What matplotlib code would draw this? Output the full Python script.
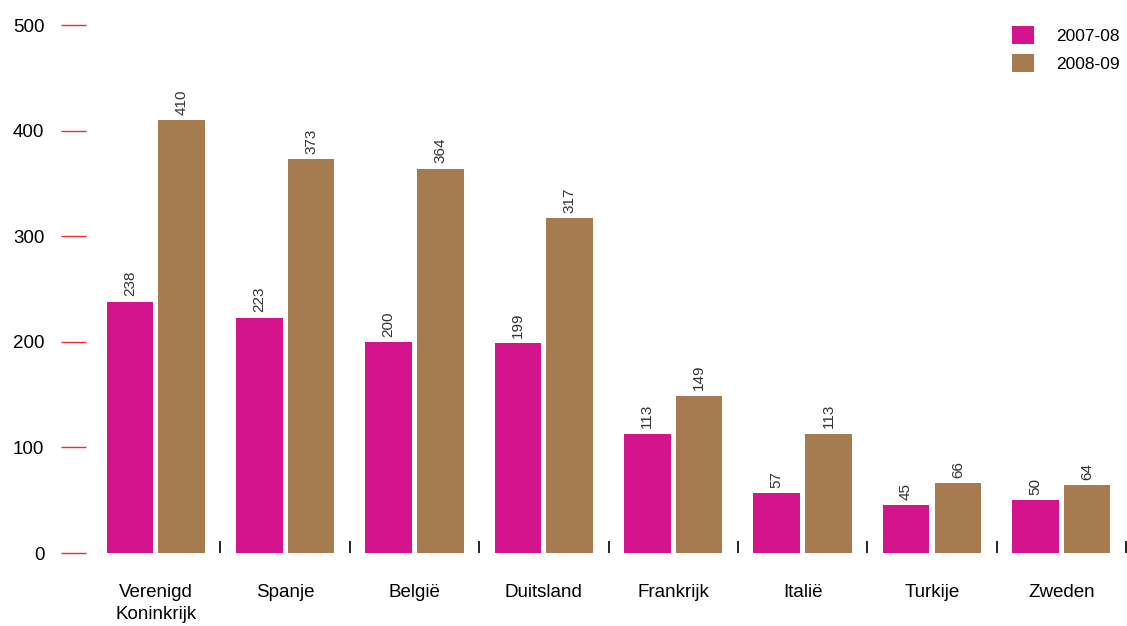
import numpy as np
import matplotlib.pyplot as plt

plt.rcParams['font.family'] = ['Liberation Sans', 'DejaVu Sans']

countries = ['Verenigd\nKoninkrijk', 'Spanje', 'België', 'Duitsland',
             'Frankrijk', 'Italië', 'Turkije', 'Zweden']
v_0708 = [238, 223, 200, 199, 113, 57, 45, 50]
v_0809 = [410, 373, 364, 317, 149, 113, 66, 64]
years = ['2007-08', '2008-09']

pink = '#d4148c'
brown = '#a67b50'

W, H = 1127, 626
fig = plt.figure(figsize=(W / 100, H / 100), dpi=100)
ax = fig.add_axes([86 / W, (H - 553) / H, (W - 86) / W, 528 / H])

x = np.arange(len(countries))
bw = 0.36
b1 = ax.bar(x - 0.2, v_0708, bw, color=pink, label=years[0])
b2 = ax.bar(x + 0.2, v_0809, bw, color=brown, label=years[1])

for bars in (b1, b2):
    for r in bars:
        ax.text(r.get_x() + r.get_width() / 2, r.get_height() + 5, str(int(r.get_height())),
                rotation=90, ha='center', va='bottom', fontsize=11, color='#333333')

# small separators between the groups
ax.vlines(x + 0.5, 0, 11, color='black', lw=1.2)

ax.set_xlim(-0.539, 7.508)
ax.set_ylim(0, 500)
ax.set_yticks([0, 100, 200, 300, 400, 500])
ax.tick_params(axis='y', direction='out', length=18, width=1, color='#e8302f',
               pad=12, labelsize=13.5)
ax.set_xticks(x)
ax.set_xticklabels(countries, fontsize=13.5, linespacing=1.45)
ax.tick_params(axis='x', length=0, pad=22)
for s in ax.spines.values():
    s.set_visible(False)

ax.legend(loc='upper left', bbox_to_anchor=(1012 / W, 1 - 26 / H),
          bbox_transform=fig.transFigure, frameon=False, fontsize=12.5,
          handlelength=1.25, handleheight=1.25, handletextpad=1.3,
          labelspacing=0.55, borderpad=0, borderaxespad=0)

fig.savefig('out.png', dpi=100)
